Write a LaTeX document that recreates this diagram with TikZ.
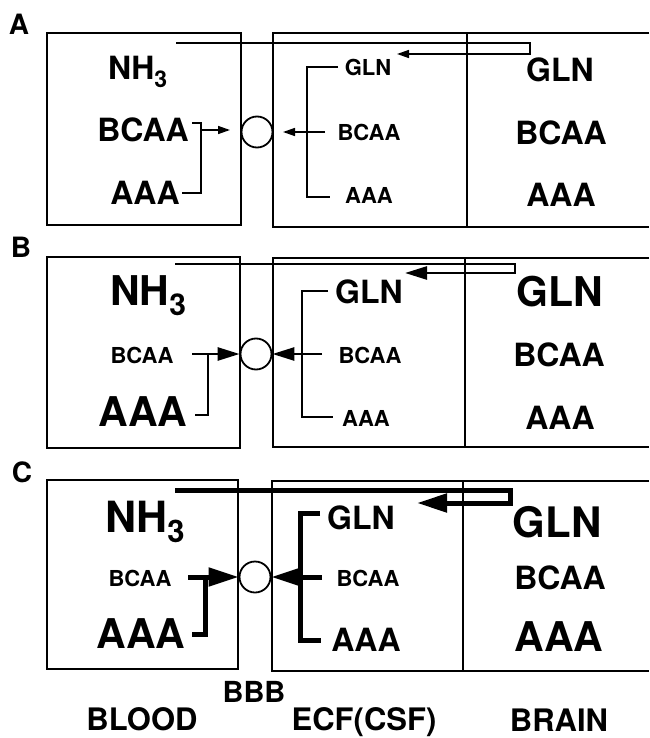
\documentclass[tikz,border=0pt]{standalone}
\usepackage{fontspec}
\setmainfont{TeX Gyre Heros}
\usetikzlibrary{arrows.meta}
\begin{document}
\begin{tikzpicture}[x=1pt,y=-1pt,line join=miter,
  boxln/.style={line width=1.8pt},
  divln/.style={line width=1.4pt},
  wA/.style={line width=1.5pt},
  wB/.style={line width=2.6pt},
  wC/.style={line width=5pt},
  hA/.style={-{Triangle[length=12pt,width=8pt]}},
  hB/.style={-{Triangle[length=22pt,width=13pt]}},
  hC/.style={-{Triangle[length=30pt,width=18pt]}},
  carrier/.style={circle,draw,line width=1.8pt,minimum size=31pt,inner sep=0pt},
  txS/.style={inner sep=0pt,font=\fontsize{22}{24}\selectfont\bfseries},
  txM/.style={inner sep=0pt,font=\fontsize{32}{34}\selectfont\bfseries},
  txL/.style={inner sep=0pt,font=\fontsize{41}{43}\selectfont\bfseries},
  panel/.style={inner sep=0pt,font=\fontsize{28}{29}\selectfont\bfseries},
  foot/.style={inner sep=0pt,anchor=base,font=\fontsize{31}{33}\selectfont\bfseries}]
\useasboundingbox (0,0) rectangle (649,738);

% ================= Panel A =================
\node[panel] (labA) at (19,24) {A};
\draw[boxln] (47,33) rectangle (241,225);
\draw[boxln] (649,33) -- (273,33) -- (273,227) -- (649,227);
\draw[divln] (467,33) -- (467,227);
\node[txM,anchor=base west] (nhA) at (108,80) {NH\raisebox{-8pt}{\fontsize{23}{23}\selectfont 3}};
\node[txM] (bbcA) at (143,130) {BCAA};
\node[txM] (baaA) at (145,193) {AAA};
\node[carrier] (tA) at (257,132) {};
\node[txS] (eglA) at (368,67) {GLN};
\node[txS] (ebcA) at (369,132) {BCAA};
\node[txS] (eaaA) at (369,195) {AAA};
\node[txM] (rglA) at (560,70) {GLN};
\node[txM] (rbcA) at (561,133) {BCAA};
\node[txM] (raaA) at (561,195) {AAA};
\coordinate (a1) at (192,123); \coordinate (a2) at (201,123);
\coordinate (a3) at (201,193); \coordinate (a4) at (182,193);
\coordinate (a5) at (201,130); \coordinate (a6) at (230,130);
\draw[wA] (a1) -- (a2) -- (a3) -- (a4);
\draw[wA,hA] (a5) -- (a6);
\coordinate (e1) at (338,67); \coordinate (e2) at (307,67);
\coordinate (e3) at (307,197); \coordinate (e4) at (330,197);
\coordinate (e5) at (325,132); \coordinate (e6) at (283,132);
\draw[wA] (e1) -- (e2) -- (e3) -- (e4);
\draw[wA,hA] (e5) -- (e6);
\coordinate (n1) at (176,43); \coordinate (n2) at (530,43);
\coordinate (n3) at (530,54); \coordinate (n4) at (397,54);
\draw[wA,hA] (n1) -- (n2) -- (n3) -- (n4);

% ================= Panel B =================
\node[panel] (labB) at (21,247) {B};
\draw[boxln] (47,257) rectangle (240,448);
\draw[boxln] (649,258) -- (273,258) -- (273,447) -- (649,447);
\draw[divln] (465,258) -- (465,447);
\node[txL,anchor=base west] (nhB) at (110,305) {NH\raisebox{-10pt}{\fontsize{30}{30}\selectfont 3}};
\node[txS] (bbcB) at (142,355) {BCAA};
\node[txL] (baaB) at (143,412) {AAA};
\node[carrier] (tB) at (256,354) {};
\node[txM] (eglB) at (369,292) {GLN};
\node[txS] (ebcB) at (370,355) {BCAA};
\node[txS] (eaaB) at (366,418) {AAA};
\node[txL] (rglB) at (560,292) {GLN};
\node[txM] (rbcB) at (559,355) {BCAA};
\node[txM] (raaB) at (560,418) {AAA};
\coordinate (b1) at (192,354); \coordinate (b2) at (208,354);
\coordinate (b3) at (208,415); \coordinate (b4) at (195,415);
\draw[wB,hB] (b1) -- (tB.west);
\draw[wB] (b2) -- (b3) -- (b4);
\coordinate (f1) at (328,291); \coordinate (f2) at (302,291);
\coordinate (f3) at (302,417); \coordinate (f4) at (333,417);
\coordinate (f5) at (322,354);
\draw[wB] (f1) -- (f2) -- (f3) -- (f4);
\draw[wB,hB] (f5) -- (tB.east);
\coordinate (m1) at (175,264); \coordinate (m2) at (515,264);
\coordinate (m3) at (515,273); \coordinate (m4) at (405,273);
\draw[wB,hB] (m1) -- (m2) -- (m3) -- (m4);

% ================= Panel C =================
\node[panel] (labC) at (22,472) {C};
\draw[boxln] (47,480) rectangle (238,669);
\draw[boxln] (649,481) -- (272,481) -- (272,671) -- (649,671);
\draw[divln] (463,481) -- (463,671);
\node[txL,anchor=base west,font=\fontsize{43}{45}\selectfont\bfseries] (nhC) at (105,532) {NH\raisebox{-10pt}{\fontsize{31}{31}\selectfont 3}};
\node[txS] (bbcC) at (140,578) {BCAA};
\node[txL] (baaC) at (141,634) {AAA};
\node[carrier] (tC) at (255,577) {};
\node[txM] (eglC) at (361,518) {GLN};
\node[txS] (ebcC) at (368,578) {BCAA};
\node[txM] (eaaC) at (366,640) {AAA};
\node[txL,font=\fontsize{42}{44}\selectfont\bfseries] (rglC) at (557,522) {GLN};
\node[txM] (rbcC) at (560,578) {BCAA};
\node[txL] (raaC) at (559,637) {AAA};
\coordinate (c1) at (188,577); \coordinate (c2) at (205,577);
\coordinate (c3) at (205,634); \coordinate (c4) at (192,634);
\draw[wC,hC] (c1) -- (tC.west);
\draw[wC] (c2) -- (c3) -- (c4);
\coordinate (g1) at (320,513); \coordinate (g2) at (300,513);
\coordinate (g3) at (300,640); \coordinate (g4) at (321,640);
\coordinate (g5) at (322,577);
\draw[wC] (g1) -- (g2) -- (g3) -- (g4);
\draw[wC,hC] (g5) -- (tC.east);
\coordinate (p1) at (175,490); \coordinate (p2) at (510,490);
\coordinate (p3) at (510,503); \coordinate (p4) at (417,503);
\draw[wC,hC] (p1) -- (p2) -- (p3) -- (p4);

% ================= Footer =================
\node[foot,font=\fontsize{29}{31}\selectfont\bfseries] (bbb) at (254,702) {BBB};
\node[foot] (blood) at (142,730) {BLOOD};
\node[foot] (ecf) at (364,730) {ECF(CSF)};
\node[foot] (brain) at (559,731) {BRAIN};
\end{tikzpicture}
\end{document}
